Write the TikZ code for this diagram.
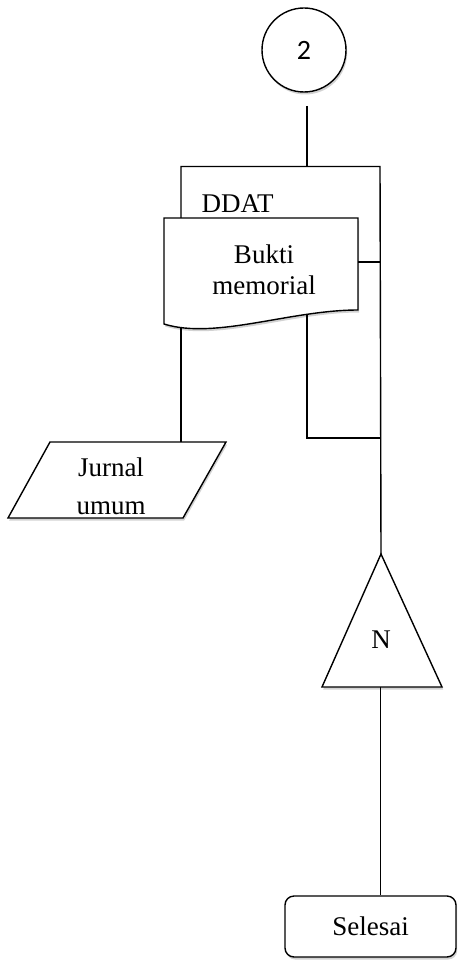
\documentclass[tikz,border=0pt]{standalone}
\usepackage{fontspec}
\setmainfont{Liberation Serif}
\newfontfamily\connfont{Carlito}
\usetikzlibrary{shadows}
\begin{document}
\begin{tikzpicture}[x=1pt,y=-1pt,line width=1.4pt,
  softshadow/.style={drop shadow={shadow xshift=1.2pt,shadow yshift=-2.5pt,fill=black!35}},
  lbl/.style={font=\fontsize{27}{31}\selectfont,align=center,inner sep=0pt}]
\useasboundingbox (0,0) rectangle (466,960);

% off-page connector
\node[circle,draw,fill=white,minimum size=84pt,inner sep=0pt,softshadow,
      font=\connfont\fontsize{28}{30}\selectfont] (c2) at (304,50) {2};

% junction points
\coordinate (c2out) at (307,106);
\coordinate (split) at (307,166.5);
\coordinate (brL)   at (181,166.5);
\coordinate (brR)   at (380,166.5);
\coordinate (ddatL) at (181,218);
\coordinate (docR)  at (358,262);
\coordinate (railR) at (380,262);
\coordinate (docB1) at (181,327);
\coordinate (docB2) at (307,314);
\coordinate (loopC) at (307,438);
\coordinate (loopR) at (380,438);
\coordinate (jurTop) at (181,442);
\coordinate (triTop) at (381,554);
\coordinate (triBot) at (380,687);

% bracket from the connector
\draw (c2out) -- (split);
\draw (ddatL) -- (brL) -- (brR) -- (triTop);
\node[lbl,anchor=base west] (ddat) at (201,212) {DDAT};

% document
\path[draw,fill=white,softshadow] (164,218) -- (358,218) -- (358,310)
  .. controls (290,310) and (215,340) .. (164,324) -- cycle;
\node[lbl] (doc) at (264,270) {Bukti\\memorial};

% journal (input/output)
\path[draw,fill=white,softshadow] (50,442) -- (226,442) -- (183,518) -- (8,518) -- cycle;
\node[lbl,font=\fontsize{27}{38}\selectfont] (jur) at (111,486) {Jurnal\\umum};

% file (triangle)
\path[draw,fill=white,softshadow] (triTop) -- (442,687) -- (322,687) -- cycle;
\node[lbl] (file) at (381,640) {N};

% terminator
\node[draw,fill=white,rounded corners=9pt,minimum width=171pt,minimum height=61pt,
      softshadow,lbl] (end) at (370.5,926.5) {Selesai};

% connectors
\draw (docR) -- (railR);
\draw (docB2) -- (loopC) -- (loopR);
\draw (docB1) -- (jurTop);
\draw[line width=1pt] (triBot) -- (triBot |- end.north);
\end{tikzpicture}
\end{document}
